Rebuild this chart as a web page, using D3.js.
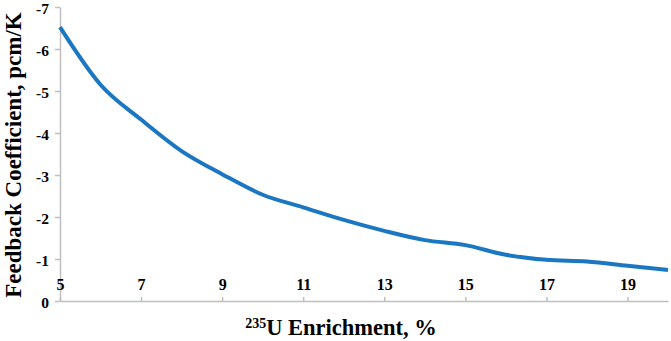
<!DOCTYPE html>
<html><head><meta charset="utf-8">
<script src="https://cdn.jsdelivr.net/npm/d3@7"></script>
<style>body{margin:0;background:#fff}svg{display:block}text{font-family:"Liberation Serif","Times New Roman",serif;font-weight:bold;fill:#000}</style>
</head><body><svg id="c" width="671" height="341"></svg>
<script>
const enrichment = [5,6,7,8,9,10,11,12,13,14,15,16,17,18,19,20];
const feedback = [-6.52,-5.15,-4.32,-3.57,-3.02,-2.53,-2.23,-1.93,-1.67,-1.45,-1.33,-1.10,-0.98,-0.94,-0.84,-0.74];
const xTicks = [5,7,9,11,13,15,17,19];
const yTicks = [0,-1,-2,-3,-4,-5,-6,-7];

const svg = d3.select("#c");
const x = d3.scaleLinear().domain([5,20]).range([60,668]);
const y = d3.scaleLinear().domain([0,-7]).range([301,7]);
const axisColor = "#bfbfbf";

// y axis
const gy = svg.append("g").attr("transform","translate(60,0)")
  .call(d3.axisLeft(y).tickValues(yTicks).tickSize(5).tickSizeOuter(0).tickFormat(d=>d===0?"0":"-"+Math.abs(d)));
gy.select(".domain").attr("stroke",axisColor).attr("stroke-width",1.5);
gy.selectAll(".tick line").attr("stroke",axisColor).attr("stroke-width",1.5);
gy.selectAll(".tick text").attr("x",-11).attr("dy","0.45em").style("font-size","15.5px").style("font-family","'Liberation Serif',serif").style("font-weight","bold").attr("fill","#000");

// x axis
const gx = svg.append("g").attr("transform","translate(0,301)")
  .call(d3.axisBottom(x).tickValues(xTicks).tickSize(-4).tickSizeOuter(0).tickFormat(d3.format("d")));
gx.select(".domain").attr("stroke",axisColor).attr("stroke-width",1.5);
gx.selectAll(".tick line").attr("stroke",axisColor).attr("stroke-width",1.5);
gx.selectAll(".tick text").attr("y",-22).attr("dy","0.71em").style("font-size","16px").style("font-family","'Liberation Serif',serif").style("font-weight","bold").attr("fill","#000");

// line
const line = d3.line().x((d,i)=>x(enrichment[i])).y(d=>y(d)).curve(d3.curveMonotoneX);
svg.append("path").datum(feedback).attr("d",line).attr("fill","none")
  .attr("stroke","#1b77c2").attr("stroke-width",4).attr("stroke-linecap","butt");

// titles
svg.append("text").attr("transform","translate(21,155) rotate(-90)").attr("text-anchor","middle")
  .style("font-size","23px").text("Feedback Coefficient, pcm/K");
const xt = svg.append("text").attr("x",341).attr("y",335).attr("text-anchor","middle").style("font-size","22.5px");
xt.append("tspan").attr("dy","-7").style("font-size","14px").text("235");
xt.append("tspan").attr("dy","7").text("U Enrichment, %");
</script></body></html>
